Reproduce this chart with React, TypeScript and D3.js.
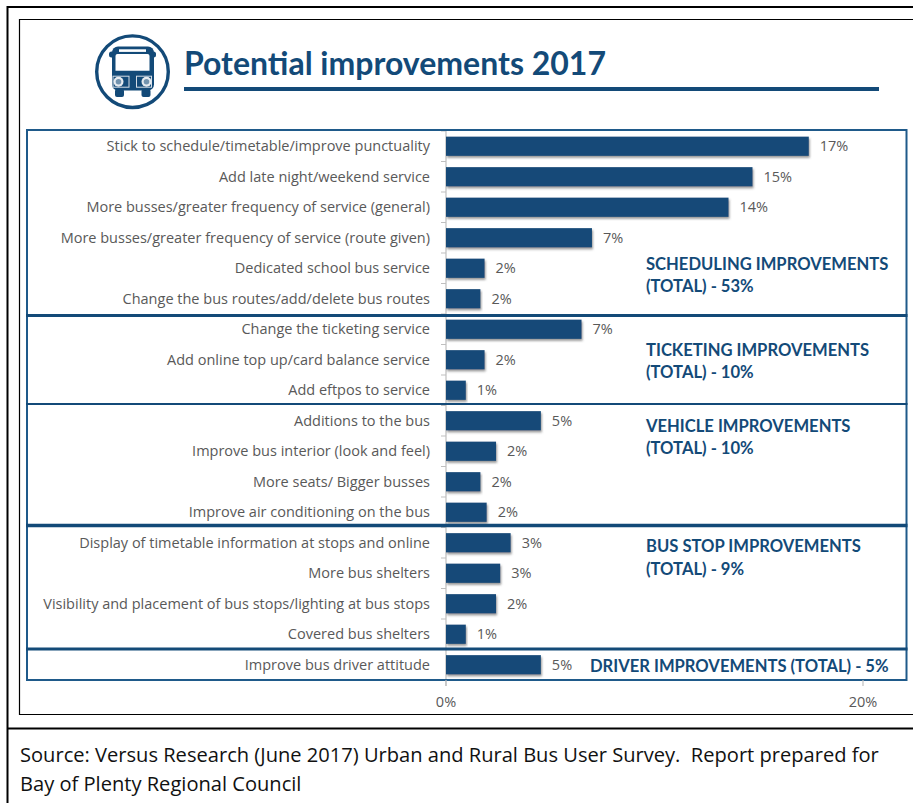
import React from "react";
import * as d3 from "d3";

// Survey responses, one entry per improvement, top to bottom
const categories = [
  "Stick to schedule/timetable/improve punctuality",
  "Add late night/weekend service",
  "More busses/greater frequency of service (general)",
  "More busses/greater frequency of service (route given)",
  "Dedicated school bus service",
  "Change the bus routes/add/delete bus routes",
  "Change the ticketing service",
  "Add online top up/card balance service",
  "Add eftpos to service",
  "Additions to the bus",
  "Improve bus interior (look and feel)",
  "More seats/ Bigger busses",
  "Improve air conditioning on the bus",
  "Display of timetable information at stops and online",
  "More bus shelters",
  "Visibility and placement of bus stops/lighting at bus stops",
  "Covered bus shelters",
  "Improve bus driver attitude",
];
const shares = [
  17.4, 14.7, 13.55, 7.0, 1.85, 1.65, 6.5, 1.85, 0.95, 4.55, 2.4, 1.65, 1.95, 3.1, 2.6, 2.4, 0.95, 4.55,
];
const axisTicks = [0, 20];
const groupHeadings = [
  ["SCHEDULING IMPROVEMENTS", "(TOTAL) - 53%"],
  ["TICKETING IMPROVEMENTS", "(TOTAL) - 10%"],
  ["VEHICLE IMPROVEMENTS", "(TOTAL) - 10%"],
  ["BUS STOP IMPROVEMENTS", "(TOTAL) - 9%"],
  ["DRIVER IMPROVEMENTS (TOTAL) - 5%"],
];
const sourceLines = [
  "Source: Versus Research (June 2017) Urban and Rural Bus User Survey.  Report prepared for",
  "Bay of Plenty Regional Council",
];

const NAVY = "#134a78";
const FRAME = "#1f5a8a";
const GREY = "#595959";
const BODY_FONT = "'Open Sans', sans-serif";
const HEAD_FONT = "Lato, sans-serif";

// Placement of the group boxes and their headings
const headingAnchors = [
  { x: 646, y: 269.5 },
  { x: 646, y: 355.5 },
  { x: 646, y: 431.5 },
  { x: 646, y: 552 },
  { x: 590, y: 671.5 },
];
const boxDividers = [
  { y: 315.5, w: 3 },
  { y: 404, w: 2 },
  { y: 525.5, w: 3.5 },
  { y: 649, w: 3 },
];

function BusIcon() {
  return (
    <g>
      <circle cx={132.5} cy={71.7} r={35.8} fill="#fff" stroke={NAVY} strokeWidth={3.4} />
      <rect x={109} y={51.5} width={47} height={6} rx={2.5} fill={NAVY} />
      <rect x={112} y={46.5} width={42} height={44} rx={6} fill={NAVY} />
      <rect x={115} y={89} width={9} height={8} rx={2} fill={NAVY} />
      <rect x={141.5} y={89} width={9} height={8} rx={2} fill={NAVY} />
      <rect x={119} y={49.3} width={27} height={2.6} fill="#fff" />
      <path d="M117.5 54h30q2 0 2 2v14.7h-34V56q0-2 2-2z" fill="#fff" />
      <rect x={113} y={76.2} width={16} height={11} fill={NAVY} stroke="#d5dde6" strokeWidth={1} />
      <rect x={136.5} y={76.2} width={15} height={11} fill={NAVY} stroke="#d5dde6" strokeWidth={1} />
      <circle cx={118.5} cy={81.7} r={5} fill="#e6ebf0" />
      <circle cx={118.5} cy={81.7} r={2.8} fill={NAVY} opacity={0.55} />
      <circle cx={146.5} cy={81.7} r={5} fill="#e6ebf0" />
      <circle cx={146.5} cy={81.7} r={2.8} fill={NAVY} opacity={0.55} />
    </g>
  );
}

export default function App() {
  const x = d3.scaleLinear().domain([0, 20]).range([446, 863]);
  const y = d3.scaleBand<number>().domain(d3.range(categories.length)).range([131, 680]).paddingInner(0.37).paddingOuter(0.185);
  const step = y.step();

  return (
    <svg width={913} height={803} style={{ position: "fixed", left: 0, top: 0, display: "block", background: "#fff" }}>
      <defs>
        <filter id="barShadow" x="-5%" y="-20%" width="112%" height="150%">
          <feDropShadow dx={1} dy={2} stdDeviation={1} floodColor="#555" floodOpacity={0.6} />
        </filter>
      </defs>

      {/* Page frames */}
      <path d="M913 7H7.5V803" fill="none" stroke="#000" strokeWidth={2} />
      <path d="M7.5 728.5H913" fill="none" stroke="#000" strokeWidth={2} />
      <path d="M913 19.5H19.5V714.5H913" fill="none" stroke="#000" strokeWidth={1.2} />

      {/* Heading */}
      <BusIcon />
      <text x={184} y={75} fontFamily={HEAD_FONT} fontWeight={700} fontSize={32} fill={NAVY}>
        Potential improvements 2017
      </text>
      <line x1={184} x2={879} y1={89} y2={89} stroke={NAVY} strokeWidth={4} />

      {/* Category axis */}
      <line x1={446} x2={446} y1={131} y2={686} stroke="#bfbfbf" strokeWidth={1.2} />
      {categories.map((_, i) => (
        <line key={i} x1={441} x2={446} y1={131 + i * step} y2={131 + i * step} stroke="#bfbfbf" />
      ))}

      {/* Bars with value labels */}
      {categories.map((name, i) => {
        const top = y(i) as number;
        const mid = top + y.bandwidth() / 2;
        return (
          <g key={name}>
            <text x={430} y={mid + 0.5} dy="0.32em" textAnchor="end" fontFamily={BODY_FONT} fontSize={14.5} fill={GREY}>
              {name}
            </text>
            <rect x={x(0)} y={top} width={x(shares[i]) - x(0)} height={y.bandwidth()} fill={NAVY} filter="url(#barShadow)" />
            <text x={x(shares[i]) + 11} y={mid + 0.5} dy="0.32em" fontFamily={BODY_FONT} fontSize={14.5} fill={GREY}>
              {`${Math.round(shares[i])}%`}
            </text>
          </g>
        );
      })}

      {/* Group boxes */}
      <rect x={27} y={130} width={879.5} height={550} fill="none" stroke={FRAME} strokeWidth={2} />
      {boxDividers.map((d) => (
        <line key={d.y} x1={26} x2={907.5} y1={d.y} y2={d.y} stroke={NAVY} strokeWidth={d.w} />
      ))}

      {/* Group totals */}
      {groupHeadings.map((lines, g) => (
        <text key={g} fontFamily={HEAD_FONT} fontWeight={700} fontSize={16.6} fill={NAVY}>
          {lines.map((line, k) => (
            <tspan key={k} x={headingAnchors[g].x} y={headingAnchors[g].y + k * 22.5}>
              {line}
            </tspan>
          ))}
        </text>
      ))}

      {/* Value axis */}
      {axisTicks.map((t) => (
        <g key={t}>
          <line x1={x(t)} x2={x(t)} y1={680} y2={686} stroke="#bfbfbf" strokeWidth={1.2} />
          <text x={x(t)} y={702} dy="0.32em" textAnchor="middle" fontFamily={BODY_FONT} fontSize={14.5} fill={GREY}>
            {`${t}%`}
          </text>
        </g>
      ))}

      {/* Source note */}
      {sourceLines.map((line, k) => (
        <text key={k} x={20} y={761.5 + k * 29} fontFamily={BODY_FONT} fontSize={20.1} fill="#111" xmlSpace="preserve">
          {line}
        </text>
      ))}
    </svg>
  );
}
